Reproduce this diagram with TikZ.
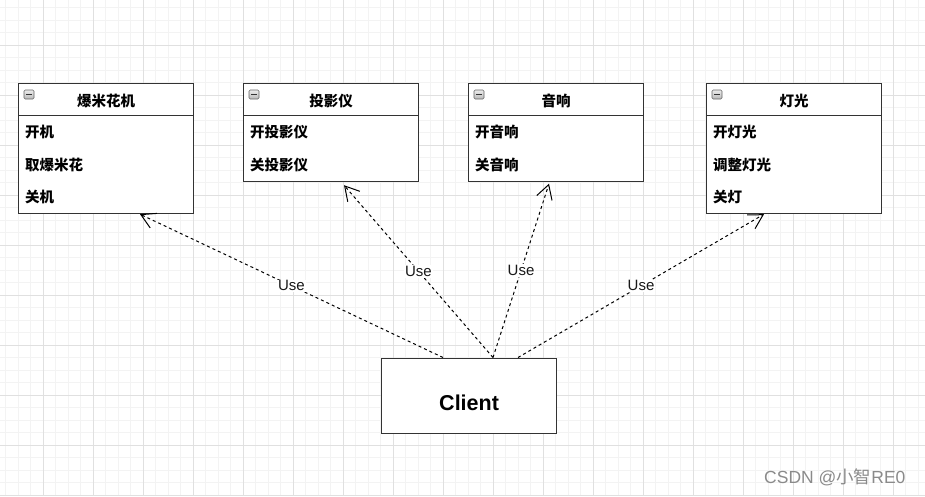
\documentclass[tikz,border=0pt]{standalone}
\usepackage{fontspec}
\setmainfont{Liberation Sans}
\newfontfamily\cjk{Noto Sans CJK SC}
\usetikzlibrary{arrows.meta,calc}
\definecolor{boxc}{HTML}{333333}
\definecolor{gridminor}{HTML}{F3F3F3}
\definecolor{gridmajor}{HTML}{E0E0E0}
\definecolor{wmark}{HTML}{8A8A8A}
\begin{document}
\begin{tikzpicture}[x=1pt,y=-1pt,
  minorline/.style={draw=gridminor,line width=1pt},
  majorline/.style={draw=gridmajor,line width=1pt},
  box/.style={draw=boxc,line width=1.2pt,fill=white,minimum width=175pt,anchor=north west,inner sep=0pt},
  sepline/.style={draw=boxc,line width=1.2pt},
  title/.style={font=\cjk\bfseries\fontsize{14.5}{15}\selectfont,inner sep=0pt},
  row/.style={font=\cjk\bfseries\fontsize{14.5}{15}\selectfont,inner sep=0pt,anchor=west},
  icon/.style={draw=gray!80!black,line width=0.6pt,rounded corners=1.2pt,top color=gray!15,bottom color=gray!55,minimum width=10pt,minimum height=9pt,inner sep=0pt},
  iconminus/.style={draw=black!80,line width=1.2pt},
  dep/.style={draw=black,line width=1pt,dash pattern=on 3pt off 3pt,-{Straight Barb[length=14pt,width=16pt,line width=1pt]}},
  lbl/.style={fill=white,inner sep=1pt,font=\fontsize{15}{15}\selectfont,text=black!90}
]
\useasboundingbox (0,0) rectangle (925,496);
\fill[white] (0,0) rectangle (925,496);
% grid
\foreach \x in {5.5,18,...,925} \draw[minorline] (\x,0) -- (\x,496);
\foreach \y in {7.5,20,...,496} \draw[minorline] (0,\y) -- (925,\y);
\foreach \x in {43.3,93.3,...,925} \draw[majorline] (\x,0) -- (\x,496);
\foreach \y in {45,95,...,496} \draw[majorline] (0,\y) -- (925,\y);

% box 1
\node[box,minimum height=129.5pt] (b1) at (18,83) {};
\draw[sepline] ($(b1.north west)+(0,32.5)$) -- ($(b1.north east)+(0,32.5)$);
\node[icon] (i1) at ($(b1.north west)+(11,11.5)$) {};
\draw[iconminus] ($(i1.center)+(-3,0)$) -- ($(i1.center)+(3,0)$);
\node[title] (t1) at ($(b1.north)+(0,18)$) {爆米花机};
\node[row] (r11) at ($(b1.north west)+(7,49)$) {开机};
\node[row] (r12) at ($(b1.north west)+(7,81.5)$) {取爆米花};
\node[row] (r13) at ($(b1.north west)+(7,114)$) {关机};

% box 2
\node[box,minimum height=97.5pt] (b2) at (243,83) {};
\draw[sepline] ($(b2.north west)+(0,32.5)$) -- ($(b2.north east)+(0,32.5)$);
\node[icon] (i2) at ($(b2.north west)+(11,11.5)$) {};
\draw[iconminus] ($(i2.center)+(-3,0)$) -- ($(i2.center)+(3,0)$);
\node[title] (t2) at ($(b2.north)+(0,18)$) {投影仪};
\node[row] (r21) at ($(b2.north west)+(7,49)$) {开投影仪};
\node[row] (r22) at ($(b2.north west)+(7,81.5)$) {关投影仪};

% box 3
\node[box,minimum height=97.5pt] (b3) at (468,83) {};
\draw[sepline] ($(b3.north west)+(0,32.5)$) -- ($(b3.north east)+(0,32.5)$);
\node[icon] (i3) at ($(b3.north west)+(11,11.5)$) {};
\draw[iconminus] ($(i3.center)+(-3,0)$) -- ($(i3.center)+(3,0)$);
\node[title] (t3) at ($(b3.north)+(0,18)$) {音响};
\node[row] (r31) at ($(b3.north west)+(7,49)$) {开音响};
\node[row] (r32) at ($(b3.north west)+(7,81.5)$) {关音响};

% box 4
\node[box,minimum height=129.5pt] (b4) at (706,83) {};
\draw[sepline] ($(b4.north west)+(0,32.5)$) -- ($(b4.north east)+(0,32.5)$);
\node[icon] (i4) at ($(b4.north west)+(11,11.5)$) {};
\draw[iconminus] ($(i4.center)+(-3,0)$) -- ($(i4.center)+(3,0)$);
\node[title] (t4) at ($(b4.north)+(0,18)$) {灯光};
\node[row] (r41) at ($(b4.north west)+(7,49)$) {开灯光};
\node[row] (r42) at ($(b4.north west)+(7,81.5)$) {调整灯光};
\node[row] (r43) at ($(b4.north west)+(7,114)$) {关灯};

% client
\node[box,minimum height=75pt] (client) at (381,357.5) {};
\node[font=\bfseries\fontsize{21.5}{22}\selectfont,inner sep=0pt] (clientlbl) at ($(client.center)+(0,7)$) {Client};

% connectors
\coordinate (s1) at ($(client.north west)+(62,0)$);
\coordinate (s2) at ($(client.north west)+(112,0)$);
\coordinate (s4) at ($(client.north west)+(137,0)$);
\coordinate (e1) at ($(b1.south west)+(122,0.5)$);
\coordinate (e2) at ($(b2.south west)+(101,3.5)$);
\coordinate (e3) at ($(b3.south west)+(81,2)$);
\coordinate (e4) at ($(b4.south west)+(58,0.5)$);
\draw[dep] (s1) -- node[lbl] (u1) {Use} (e1);
\draw[dep] (s2) -- node[lbl] (u2) {Use} (e2);
\draw[dep] (s2) -- node[lbl] (u3) {Use} (e3);
\draw[dep] (s4) -- node[lbl] (u4) {Use} (e4);

% watermark
\node[font=\fontsize{17.5}{18}\selectfont,text=wmark,anchor=west,inner sep=0pt] (wm) at (764,477) {CSDN @{\cjk 小智}RE0};
\end{tikzpicture}
\end{document}
